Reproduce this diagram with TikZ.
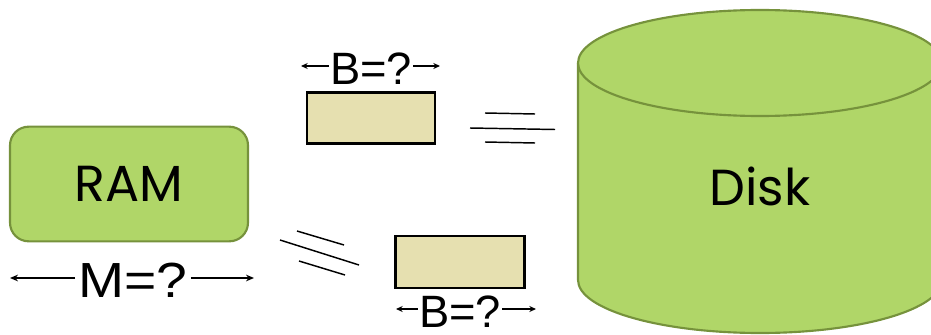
\documentclass[tikz,border=0pt]{standalone}
\usepackage{fontspec}
\setmainfont{Liberation Sans}
\newfontfamily\geofont{Poppins}
\usetikzlibrary{arrows.meta}
\definecolor{lgreen}{RGB}{176,214,104}
\definecolor{dgreen}{RGB}{118,146,60}
\definecolor{khaki}{RGB}{230,224,176}
\tikzset{
  greenfill/.style={fill=lgreen,draw=dgreen,line width=1.6pt},
  blockbox/.style={fill=khaki,draw=black,line width=2pt},
  dimarrow/.style={-{Stealth[length=6pt,width=5pt]},line width=1.2pt},
  smallarrow/.style={-{Stealth[length=5pt,width=4.5pt]},line width=1.2pt},
  streak/.style={line width=1.1pt},
  biglabel/.style={font=\geofont\fontsize{38}{40}\selectfont,inner sep=0pt},
  dimlabel/.style={font=\fontsize{34}{36}\selectfont,inner sep=0pt},
}
\begin{document}
\begin{tikzpicture}[x=0.75pt,y=-0.75pt]
\useasboundingbox (0,0) rectangle (931,335);
\begin{scope}
\clip (0,0) rectangle (931,335);
% Disk cylinder
\fill[lgreen] (578,63) -- (578,280) arc[start angle=180,end angle=0,x radius=182,y radius=53] -- (942,63) -- cycle;
\draw[dgreen,line width=1.6pt] (578,63) -- (578,280) arc[start angle=180,end angle=0,x radius=182,y radius=53] -- (942,63);
\draw[greenfill] (760,63) ellipse[x radius=182,y radius=53];
\end{scope}
\node[biglabel] (disk) at (760,186) {Disk};
% RAM
\node[greenfill,rounded corners=14pt,minimum width=178.5pt,minimum height=86pt] (ram) at (129,184) {};
\node[biglabel] (ramlabel) at (ram.center) {RAM};
% M label
\node[dimlabel,font=\fontsize{37}{40}\selectfont,xscale=1.12] (mlab) at (133,280) {M=?};
\coordinate (mleft) at (10,278);
\coordinate (mright) at (254,278);
\draw[dimarrow] (mlab.west) ++(-3,-2) -- (mleft);
\draw[dimarrow] (mlab.east) ++(3,-2) -- (mright);
% top block
\node[blockbox,minimum width=96pt,minimum height=38pt] (tb) at (371,118) {};
\node[dimlabel] (tblab) at (371,69) {B=?};
\coordinate (tbl) at (301,66);
\coordinate (tbr) at (440,66);
\draw[smallarrow] (tblab.west) ++(-1,-3) -- (tbl);
\draw[smallarrow] (tblab.east) ++(1,-3) -- (tbr);
% bottom block
\node[blockbox,minimum width=97pt,minimum height=39pt] (bb) at (460,262) {};
\node[dimlabel] (bblab) at (460,312) {B=?};
\coordinate (bbl) at (396,309);
\coordinate (bbr) at (536,309);
\draw[smallarrow] (bblab.west) ++(-1,-3) -- (bbl);
\draw[smallarrow] (bblab.east) ++(1,-3) -- (bbr);
% streaks near top block
\coordinate (s1a) at (485,113); \coordinate (s1b) at (535,114);
\coordinate (s2a) at (470,128); \coordinate (s2b) at (555,129.5);
\coordinate (s3a) at (485,142); \coordinate (s3b) at (535,143);
\draw[streak] (s1a) -- (s1b);
\draw[streak] (s2a) -- (s2b);
\draw[streak] (s3a) -- (s3b);
% streaks near bottom block
\coordinate (t1a) at (297,231); \coordinate (t1b) at (344,245);
\coordinate (t2a) at (280,240); \coordinate (t2b) at (359,265);
\coordinate (t3a) at (299,261); \coordinate (t3b) at (345,275);
\draw[streak] (t1a) -- (t1b);
\draw[streak] (t2a) -- (t2b);
\draw[streak] (t3a) -- (t3b);
\end{tikzpicture}
\end{document}
